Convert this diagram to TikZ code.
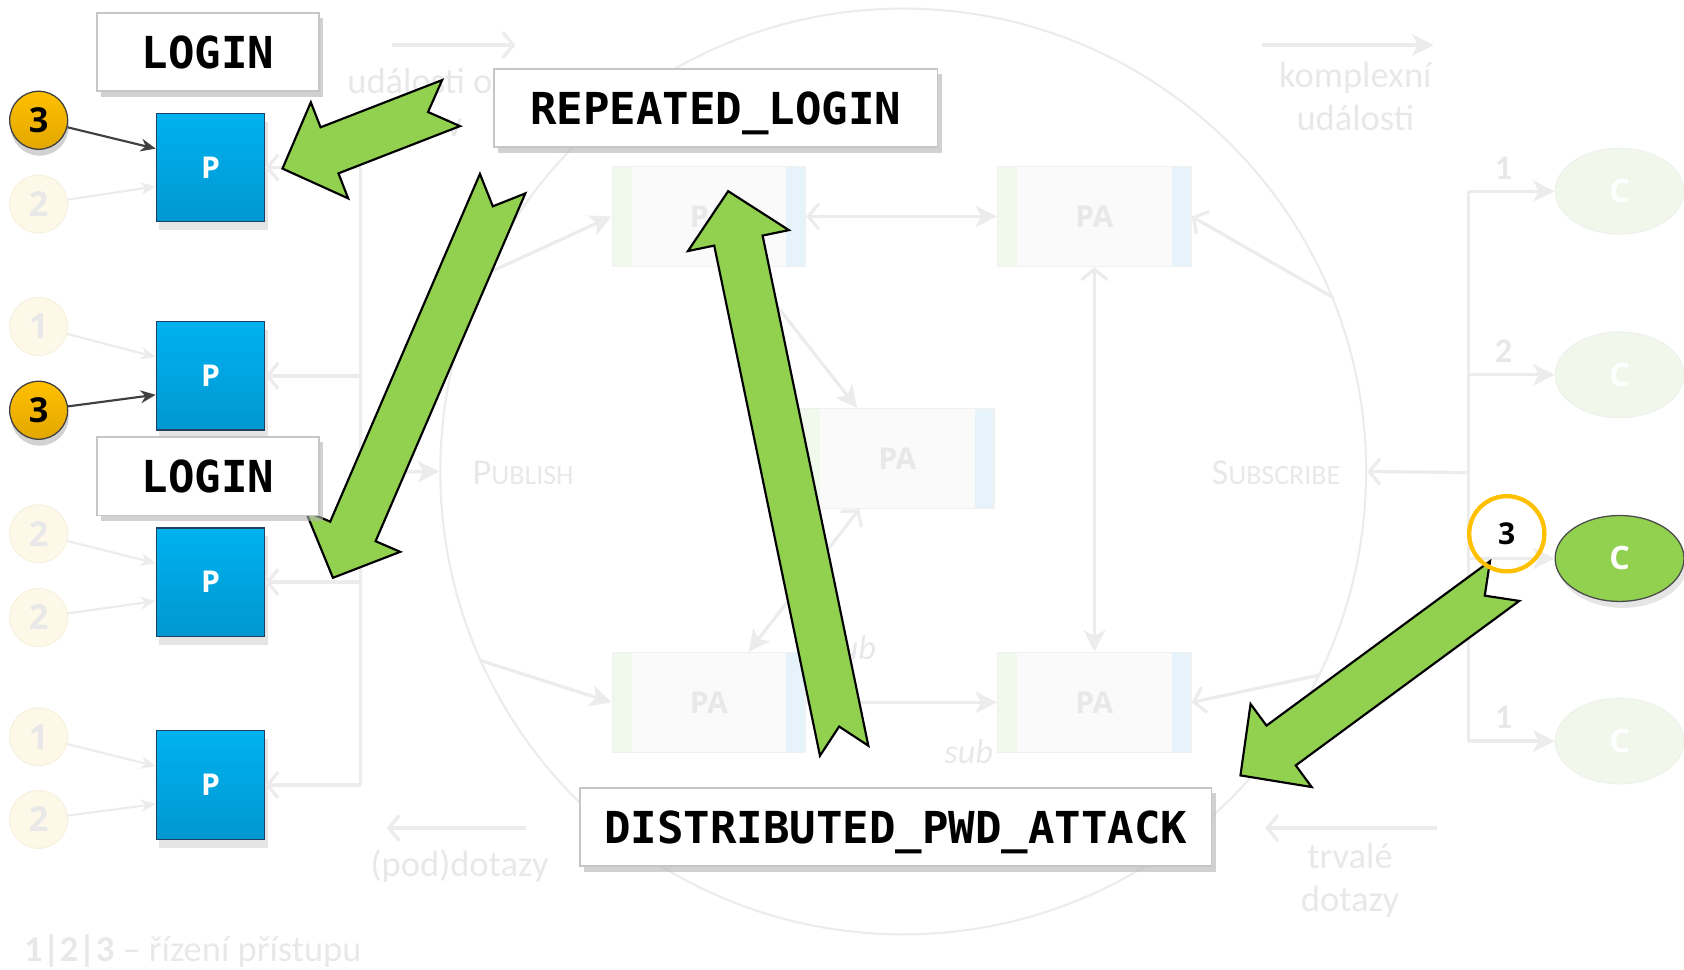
\documentclass[tikz,border=0pt]{standalone}
\usepackage{fontspec}
\setmainfont{Carlito}
\newfontfamily\osans{Open Sans}
\newfontfamily\monofont{DejaVu Sans Mono}
\usetikzlibrary{arrows.meta,calc,shadows,shapes.geometric}

\definecolor{fline}{HTML}{ECECEC}
\definecolor{ftext}{HTML}{E8E8E8}
\definecolor{pblue}{HTML}{00B2F0}
\definecolor{pbluedark}{HTML}{0097D0}
\definecolor{pborder}{HTML}{1F4060}
\definecolor{arrgreen}{HTML}{92D050}
\definecolor{gold}{HTML}{FFC000}
\definecolor{golddark}{HTML}{E2A700}
\definecolor{cream}{HTML}{FDF8E8}
\definecolor{creamline}{HTML}{F5EFDB}
\definecolor{stripg}{HTML}{F1F8EC}
\definecolor{stripb}{HTML}{E6F3FA}
\definecolor{cfaint}{HTML}{F2F7EC}

% notched block arrow from tail #1 to tip #2
\newcommand{\notcharrow}[2]{%
  \coordinate (nb) at ($(#2)!23.5pt!(#1)$);
  \draw[greenarrow] ($(#1)!11.5pt!90:(#2)$) -- ($(nb)!11.5pt!90:(#2)$)
    -- ($(nb)!24pt!90:(#2)$) -- (#2) -- ($(nb)!24pt!-90:(#2)$)
    -- ($(nb)!11.5pt!-90:(#2)$) -- ($(#1)!11.5pt!-90:(#2)$)
    -- ($(#1)!11.5pt!(#2)$) -- cycle;}

\begin{document}
\begin{tikzpicture}[x=0.5pt,y=-0.5pt,
  faint/.style={draw=fline, line width=1.5pt},
  tri/.style={-{Stealth[length=10pt,width=10pt,inset=2.5pt]}},
  barb/.style={-{Straight Barb[length=5pt,width=12pt]}},
  barbtri/.style={{Straight Barb[length=5pt,width=12pt]}-{Stealth[length=10pt,width=10pt,inset=2.5pt]}},
  ftxt/.style={text=ftext, font=\fontsize{17pt}{20pt}\selectfont, align=center, inner sep=0pt},
  greenarrow/.style={fill=arrgreen, draw=black, line width=1pt, line join=miter},
  label/.style={draw=gray!45, fill=white, line width=0.8pt,
    minimum height=36.5pt, inner sep=0pt, text depth=0pt,
    font=\monofont\bfseries\fontsize{20.5pt}{24pt}\selectfont,
    drop shadow={shadow xshift=2pt, shadow yshift=-2.5pt, fill=gray!60, opacity=0.6}},
  pbox/.style={rectangle, draw=pborder, line width=0.6pt, top color=pblue,
    bottom color=pbluedark, minimum size=50.5pt, text=white,
    font=\osans\bfseries\fontsize{14pt}{16pt}\selectfont,
    drop shadow={shadow xshift=1.5pt, shadow yshift=-4pt, fill=gray!20, opacity=1}},
  numon/.style={circle, draw=black!75, line width=0.6pt, top color=gold,
    bottom color=golddark, minimum size=27pt, inner sep=0pt,
    font=\osans\bfseries\fontsize{16pt}{18pt}\selectfont,
    drop shadow={shadow xshift=0.5pt, shadow yshift=-3pt, fill=gray!35, opacity=1}},
  numoff/.style={circle, draw=creamline, fill=cream, minimum size=27pt,
    inner sep=0pt, text=ftext, font=\osans\bfseries\fontsize{16pt}{18pt}\selectfont},
  pabox/.style={rectangle, draw=fline!80!white, fill=white!98!black, line width=0.6pt,
    minimum width=90pt, minimum height=46.5pt, text=ftext,
    font=\osans\bfseries\fontsize{14pt}{16pt}\selectfont,
    path picture={
      \fill[stripg] (path picture bounding box.north west) rectangle
        ([xshift=9pt]path picture bounding box.south west);
      \fill[stripb] (path picture bounding box.north east) rectangle
        ([xshift=-9pt]path picture bounding box.south east);}},
  cons/.style={ellipse, draw=fline!60!cfaint, fill=cfaint, minimum width=60pt,
    minimum height=40pt, text=white, font=\osans\bfseries\fontsize{15pt}{17pt}\selectfont},
  smallnum/.style={text=ftext, font=\bfseries\fontsize{16pt}{18pt}\selectfont}]

\useasboundingbox (0,0) rectangle (1568,903);

% broker circle
\node[circle, draw=fline, line width=1pt, minimum size=431pt] (broker) at (841,439) {};

% processing agents
\node[pabox] (pa1) at (660,201.5) {PA};
\node[pabox] (pa2) at (1019,201.5) {PA};
\node[pabox] (pa3) at (835.5,427) {PA};
\node[pabox] (pa4) at (660,654) {PA};
\node[pabox] (pa5) at (1019,654) {PA};

\draw[faint,barbtri] (pa1) -- (pa2);
\draw[faint,barbtri] (pa2) -- (pa5);
\draw[faint,tri] ([xshift=17.5pt]pa1.south) -- ([xshift=-18.75pt]pa3.north);
\draw[faint,barbtri] ([xshift=-17.75pt]pa3.south) -- ([xshift=18.5pt]pa4.north);
\draw[faint,tri] (pa4) -- (pa5);
\draw[faint,tri] (broker.155) -- (pa1.west);
\draw[faint,tri] (broker.204) -- (pa4.west);
\draw[faint,barb] (broker.22) -- (pa2.east);
\draw[faint,barb] (broker.-26) -- (pa5.east);

\node[text=ftext, font=\itshape\fontsize{16pt}{18pt}\selectfont] (sub1) at (793,603) {sub};
\node[text=ftext, font=\itshape\fontsize{16pt}{18pt}\selectfont] (sub2) at (902,700) {sub};

\node[ftxt] (pub) at (487,440) {P{\fontsize{13pt}{16pt}\selectfont UBLISH}};
\node[ftxt] (subs) at (1188,440) {S{\fontsize{13pt}{16pt}\selectfont UBSCRIBE}};

% top and bottom legend arrows
\coordinate (tl1) at (365,42); \coordinate (tl2) at (480,42);
\draw[faint,barb] (tl1) -- (tl2);
\node[ftxt, align=left, anchor=west] (evin) at (323,95) {události o\\\hspace*{37pt}ov};
\coordinate (tr1) at (1175,42); \coordinate (tr2) at (1335,42);
\draw[faint,tri] (tr1) -- (tr2);
\node[ftxt] (evout) at (1262,90) {komplexní\\události};
\coordinate (bl1) at (490,771); \coordinate (bl2) at (360,771);
\draw[faint,barb] (bl1) -- (bl2);
\node[ftxt] (qin) at (428,806) {(pod)dotazy};
\coordinate (br1) at (1338,771); \coordinate (br2) at (1178,771);
\draw[faint,barb] (br1) -- (br2);
\node[ftxt] (qout) at (1257,820) {trvalé\\dotazy};

\node[ftxt, anchor=west] (legend) at (22,886) {\textbf{1|2|3} – řízení přístupu};

% producers
\node[pbox] (p1) at (196,156) {P};
\node[pbox] (p2) at (196,350) {P};
\node[pbox] (p3) at (196,542) {P};
\node[pbox] (p4) at (196,731) {P};

\node[numon] (r1a) at (36,112) {3};
\node[numoff] (r1b) at (36,190) {2};
\node[numoff] (r2a) at (36,304) {1};
\node[numon] (r2b) at (36,382) {3};
\node[numoff] (r3a) at (36,497) {2};
\node[numoff] (r3b) at (36,575) {2};
\node[numoff] (r4a) at (36,686) {1};
\node[numoff] (r4b) at (36,763) {2};

\draw[black!75, line width=1pt, -{Stealth[length=7pt,width=6pt]}] (r1a) -- (p1.161);
\draw[faint, line width=1pt, -{Stealth[length=7pt,width=6pt]}] (r1b) -- (p1.199);
\draw[faint, line width=1pt, -{Stealth[length=7pt,width=6pt]}] (r2a) -- (p2.161);
\draw[black!75, line width=1pt, -{Stealth[length=7pt,width=6pt]}] (r2b) -- (p2.199);
\draw[faint, line width=1pt, -{Stealth[length=7pt,width=6pt]}] (r3a) -- (p3.161);
\draw[faint, line width=1pt, -{Stealth[length=7pt,width=6pt]}] (r3b) -- (p3.199);
\draw[faint, line width=1pt, -{Stealth[length=7pt,width=6pt]}] (r4a) -- (p4.161);
\draw[faint, line width=1pt, -{Stealth[length=7pt,width=6pt]}] (r4b) -- (p4.199);

% publish bus
\coordinate (pbus) at (336,440);
\draw[faint] (p1.east -| pbus) -- (p4.east -| pbus);
\draw[faint,barb] (p1.east -| pbus) -- (p1.east);
\draw[faint,barb] (p2.east -| pbus) -- (p2.east);
\draw[faint,barb] (p3.east -| pbus) -- (p3.east);
\draw[faint,barb] (p4.east -| pbus) -- (p4.east);
\draw[faint,tri] (pbus) -- (broker.west);

% consumers
\node[cons] (c1) at (1508,178) {C};
\node[cons] (c2) at (1508,349) {C};
\node[cons, fill=arrgreen, draw=black!70, line width=0.6pt,
  drop shadow={shadow xshift=1.5pt, shadow yshift=-3pt, fill=gray!20, opacity=1}] (c3) at (1508,520) {C};
\node[cons] (c4) at (1508,690) {C};

\coordinate (sbus) at (1367,440);
\draw[faint] (c1.west -| sbus) -- (c4.west -| sbus);
\draw[faint,tri] (c1.west -| sbus) -- (c1.west);
\draw[faint,tri] (c2.west -| sbus) -- (c2.west);
\draw[faint,tri] (c3.west -| sbus) -- (c3.west);
\draw[faint,tri] (c4.west -| sbus) -- (c4.west);
\draw[faint,barb] (sbus) -- (broker.east);
\node[smallnum] (k1) at (1400,157) {1};
\node[smallnum] (k2) at (1400,327) {2};
\node[smallnum] (k4) at (1400,668) {1};

% green arrows
\coordinate (a1t) at (420,96);   \coordinate (a1h) at (263,157);
\coordinate (a2t) at (468,171);  \coordinate (a2h) at (310,538);
\coordinate (a3t) at (786,699);  \coordinate (a3h) at (678,178);
\coordinate (a4t) at (1401,541); \coordinate (a4h) at (1155,722);
\notcharrow{a1t}{a1h}
\notcharrow{a2t}{a2h}
\notcharrow{a3t}{a3h}
\notcharrow{a4t}{a4h}

\node[circle, draw=gold, line width=2pt, minimum size=35pt, inner sep=0pt,
  font=\osans\bfseries\fontsize{14pt}{16pt}\selectfont] (ring) at (1403,497) {3};

% rule names
\node[label, minimum width=103.5pt] (login1) at (193.5,48.5) {LOGIN};
\node[label, minimum width=206.5pt] (replogin) at (666.5,100.5) {REPEATED\_LOGIN};
\node[label, minimum width=103.5pt] (login2) at (193.5,443.5) {LOGIN};
\node[label, minimum width=294pt] (pwdattack) at (834,770) {DISTRIBUTED\_PWD\_ATTACK};
\end{tikzpicture}
\end{document}
